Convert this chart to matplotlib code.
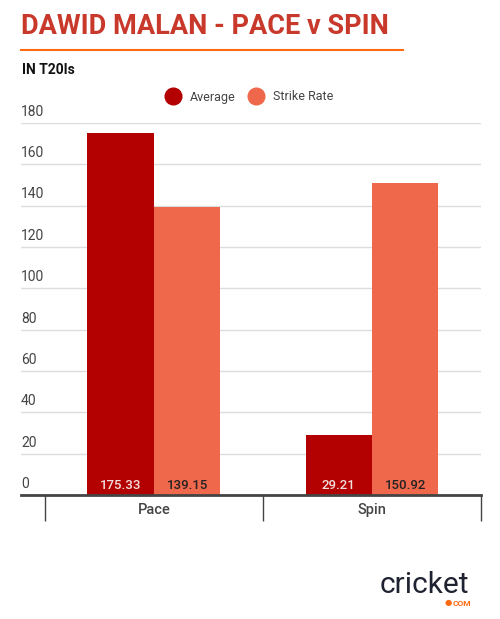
import matplotlib
matplotlib.use("Agg")
import matplotlib.pyplot as plt
import matplotlib.transforms as mtransforms
import numpy as np

plt.rcParams['font.family'] = ['Roboto', 'DejaVu Sans']

categories = ['Pace', 'Spin']
average = [175.33, 29.21]
strike_rate = [139.15, 150.92]
yticks = [0, 20, 40, 60, 80, 100, 120, 140, 160, 180]

avg_color = '#b30000'
sr_color = '#ef684b'
text_grey = '#444444'

fig = plt.figure(figsize=(5, 6.19), dpi=100)
ax = fig.add_axes([0.042, 0.2003, 0.92, 0.601])

x = np.arange(len(categories))
w = 0.303
b1 = ax.bar(x - w / 2 - 0.002, average, w, color=avg_color, label='Average')
b2 = ax.bar(x + w / 2 + 0.002, strike_rate, w, color=sr_color, label='Strike Rate')

# value labels at the bottom of each bar
for bars, col in ((b1, '#f3dede'), (b2, '#222222')):
    for r in bars:
        ax.annotate('%.2f' % r.get_height(), (r.get_x() + r.get_width() / 2, 0),
                    xytext=(0, 2), textcoords='offset points', ha='center', va='bottom',
                    fontsize=9.5, fontweight='medium', color=col)

ax.set_xlim(-0.61, 1.5)
ax.set_ylim(0, 180)
ax.set_yticks(yticks)
ax.yaxis.grid(True, color='#dddddd', lw=1)
ax.set_axisbelow(True)
ax.tick_params(axis='y', length=0, labelleft=False)

# y tick labels sit just above the gridlines
trans = mtransforms.blended_transform_factory(ax.transAxes, ax.transData)
for v in yticks:
    ax.annotate(str(v), (0, v), xycoords=trans, xytext=(0, 3), textcoords='offset points',
                ha='left', va='bottom', fontsize=10, color=text_grey)

for s in ('top', 'right', 'left'):
    ax.spines[s].set_visible(False)
ax.spines['bottom'].set_color(text_grey)
ax.spines['bottom'].set_linewidth(2)

ax.set_xticks(x)
ax.set_xticklabels(categories, fontsize=10.5, fontweight='medium', color=text_grey)
ax.set_xticks([-0.5, 0.5, 1.5], minor=True)
ax.tick_params(axis='x', which='major', length=0, pad=6)
ax.tick_params(axis='x', which='minor', length=19, width=1, color=text_grey)

leg = fig.legend(handles=[b1, b2], loc='center', bbox_to_anchor=(0.5, 1 - 97 / 619), ncol=2,
                 frameon=False, fontsize=9, handlelength=1, handleheight=1,
                 columnspacing=1.2, handletextpad=0.8)
for t in leg.get_texts():
    t.set_color(text_grey)
for h in leg.legend_handles:
    h.set_visible(False)
# round markers for the legend drawn on a background axes in pixel coords
ax_l = fig.add_axes([0, 0, 1, 1], zorder=-1)
ax_l.axis('off')
ax_l.set_xlim(0, 500)
ax_l.set_ylim(619, 0)

fig.text(0.042, 1 - 26 / 619, 'DAWID MALAN - PACE v SPIN', fontsize=19.5, fontweight='bold',
         color='#c8382b', va='center', ha='left')
fig.add_artist(plt.Line2D([0.042, 403 / 500], [1 - 50 / 619] * 2, color='#ff6a13', lw=1.5))
fig.text(0.044, 1 - 70 / 619, 'IN T20Is', fontsize=10, fontweight='bold', color='#111111',
         va='center', ha='left')

fig.canvas.draw()
for h, c in zip(leg.legend_handles, (avg_color, sr_color)):
    bb = h.get_window_extent()
    cx = (bb.x0 + bb.x1) / 2
    cy = 619 - (bb.y0 + bb.y1) / 2
    ax_l.plot(cx, cy, 'o', ms=12, color=c)

# cricket.com logo
fig.text(0.76, 1 - 585 / 619, 'cricket', fontsize=21.5, color='#1f2230', va='center', ha='left')
fig.text(0.89, 1 - 603 / 619, '\u25cf', fontsize=6, color='#ff6a13', va='center', ha='left')
fig.text(0.905, 1 - 603 / 619, 'COM', fontsize=6, fontweight='bold', color='#ff6a13',
         va='center', ha='left')

fig.savefig('out.png', dpi=100, facecolor='white')
